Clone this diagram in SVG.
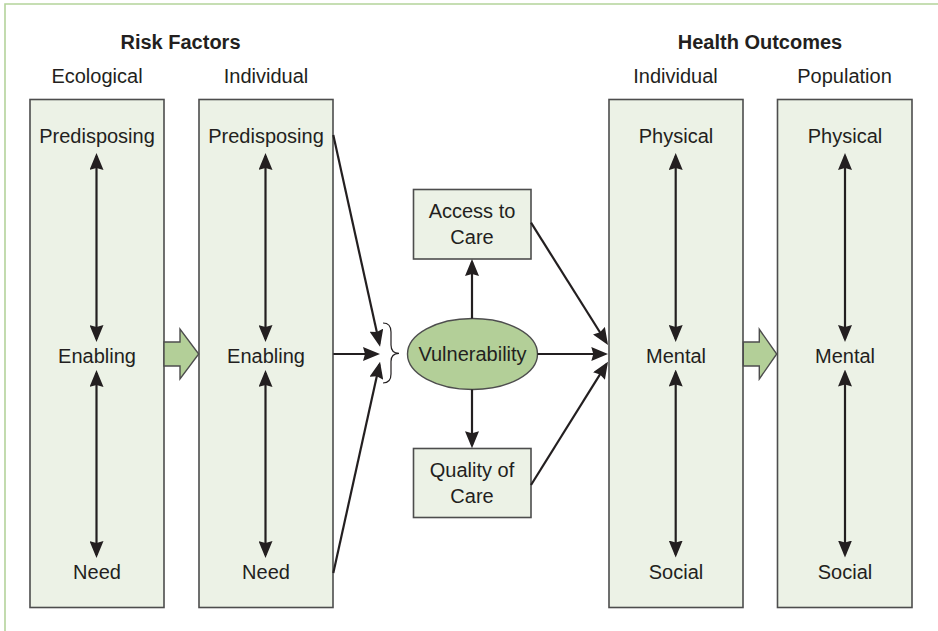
<svg xmlns="http://www.w3.org/2000/svg" width="938" height="631" viewBox="0 0 938 631">
<style>
.box{fill:#ecf2e6;stroke:#4d4d4d;stroke-width:1.6}
.t{font-family:"Liberation Sans",Arial,sans-serif;font-size:20px;fill:#231f20;text-anchor:middle}
.h{font-weight:bold}
.ln{stroke:#231f20;stroke-width:2.2;fill:none}
.da{marker-start:url(#ah);marker-end:url(#ah)}
.sa{marker-end:url(#ah)}
.big{fill:#b3cf98;stroke:#4d4d4d;stroke-width:1.4;stroke-linejoin:miter}
</style>
<defs>
<marker id="ah" viewBox="0 0 17 14" refX="14" refY="7" markerWidth="17" markerHeight="14" markerUnits="userSpaceOnUse" orient="auto-start-reverse">
<path d="M0,0 L17,7 L0,14 L2,7 Z" fill="#231f20"/>
</marker>
</defs>
<rect width="938" height="631" fill="#ffffff"/>
<g id="frame">
<polyline points="5,631 5,4 938,4" fill="none" stroke="#b4d39b" stroke-width="1.6"/>
</g>
<g id="headers">
<text class="t h" x="180.5" y="49">Risk Factors</text>
<text class="t" x="97" y="83">Ecological</text>
<text class="t" x="266" y="83">Individual</text>
<text class="t h" x="760" y="49">Health Outcomes</text>
<text class="t" x="675.5" y="83">Individual</text>
<text class="t" x="844.5" y="83">Population</text>
</g>
<g id="ecological">
<rect class="box" x="30" y="99.5" width="134" height="508"/>
<text class="t" x="97" y="143">Predisposing</text>
<text class="t" x="97" y="362.5">Enabling</text>
<text class="t" x="97" y="579">Need</text>
</g>
<g id="individual-risk">
<rect class="box" x="199" y="99.5" width="134" height="508"/>
<text class="t" x="266" y="143">Predisposing</text>
<text class="t" x="266" y="362.5">Enabling</text>
<text class="t" x="266" y="579">Need</text>
</g>
<g id="access">
<rect class="box" x="413.5" y="189.5" width="117.5" height="69.5"/>
<text class="t" x="472" y="218">Access to</text>
<text class="t" x="472" y="243.5">Care</text>
</g>
<g id="vulnerability">
<ellipse cx="472.5" cy="354" rx="65" ry="35.5" fill="#b3cf98" stroke="#4d4d4d" stroke-width="1.4"/>
<text class="t" x="472.5" y="361">Vulnerability</text>
</g>
<g id="quality">
<rect class="box" x="413.5" y="448.5" width="117.5" height="69"/>
<text class="t" x="472" y="477">Quality of</text>
<text class="t" x="472" y="503">Care</text>
</g>
<g id="individual-outcome">
<rect class="box" x="609" y="99.5" width="134" height="508"/>
<text class="t" x="676" y="143">Physical</text>
<text class="t" x="676" y="362.5">Mental</text>
<text class="t" x="676" y="579">Social</text>
</g>
<g id="population">
<rect class="box" x="777.5" y="99.5" width="134.5" height="508"/>
<text class="t" x="845" y="143">Physical</text>
<text class="t" x="845" y="362.5">Mental</text>
<text class="t" x="845" y="579">Social</text>
</g>
<g id="connectors">
<line class="ln da" x1="96.5" y1="156" x2="96.5" y2="339"/>
<line class="ln da" x1="96.5" y1="373" x2="96.5" y2="555"/>
<line class="ln da" x1="265.5" y1="156" x2="265.5" y2="339"/>
<line class="ln da" x1="265.5" y1="373" x2="265.5" y2="555"/>
<line class="ln da" x1="675.7" y1="156" x2="675.7" y2="339"/>
<line class="ln da" x1="675.7" y1="372.5" x2="675.7" y2="554.5"/>
<line class="ln da" x1="845" y1="156" x2="845" y2="339"/>
<line class="ln da" x1="845" y1="372.5" x2="845" y2="554.5"/>
<polygon class="big" points="164,342 180,342 180,329 198.7,354 180,379 180,366 164,366"/>
<polygon class="big" points="743.3,342 759.3,342 759.3,329.3 776.7,354 759.3,379 759.3,366 743.3,366"/>
<line class="ln sa" x1="333.3" y1="135" x2="379.4" y2="343.8"/>
<line class="ln sa" x1="333.3" y1="354" x2="377" y2="354"/>
<line class="ln sa" x1="333.3" y1="573" x2="379.4" y2="364.6"/>
<path d="M383,323 C389,323 391,326 391,332 L391,345 C391,350.5 393.5,353.3 399,353.3 C393.5,353.3 391,356 391,361.5 L391,374 C391,380 389,383 383,383" fill="none" stroke="#231f20" stroke-width="1.2"/>
<line class="ln sa" x1="472" y1="318.5" x2="472" y2="262"/>
<line class="ln sa" x1="472" y1="389.5" x2="472" y2="445.3"/>
<line class="ln sa" x1="537.5" y1="354" x2="605.3" y2="354"/>
<line class="ln sa" x1="531" y1="222.7" x2="606.4" y2="342.5"/>
<line class="ln sa" x1="531" y1="485" x2="606.4" y2="364.2"/>
</g>
</svg>
